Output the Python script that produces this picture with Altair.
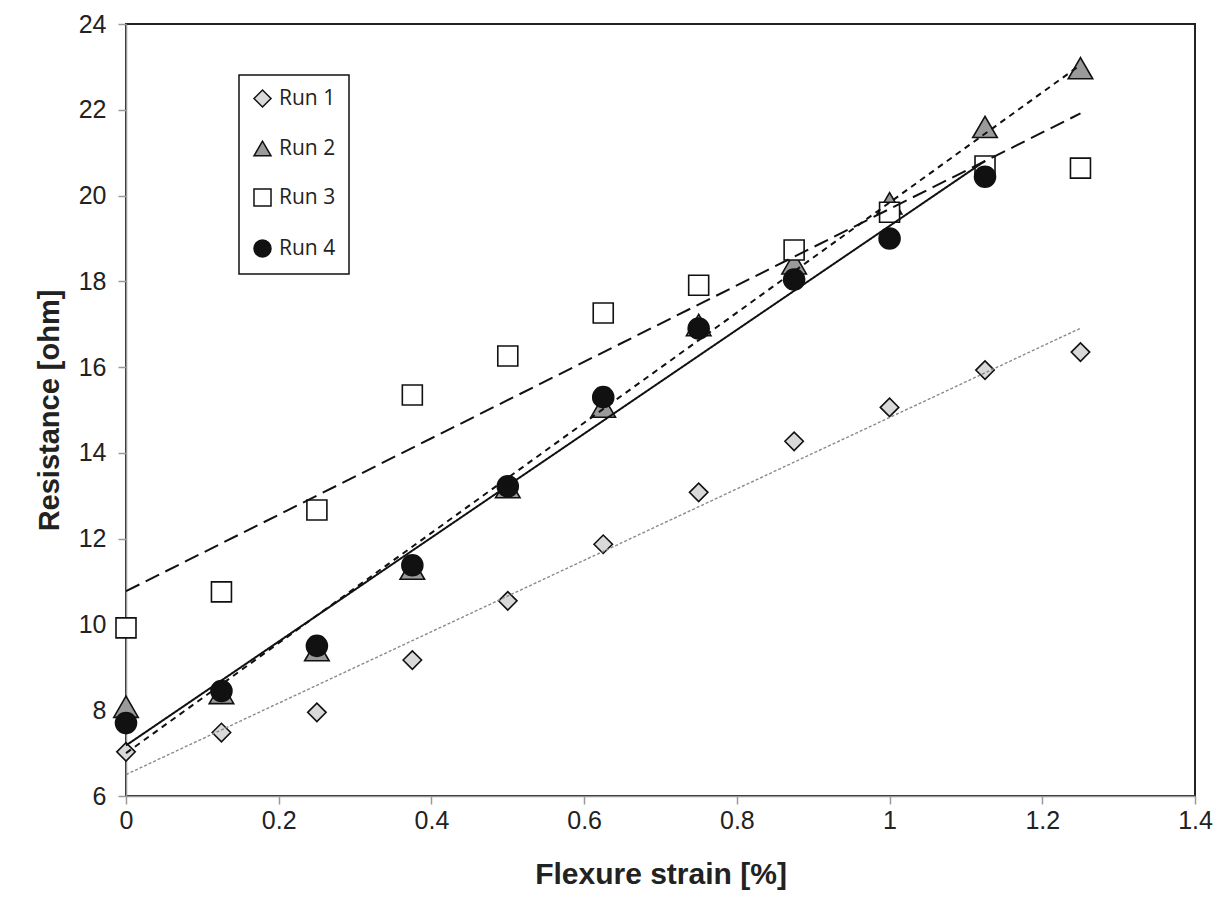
import altair as alt
import pandas as pd

strain = [0, 0.125, 0.25, 0.375, 0.5, 0.625, 0.75, 0.875, 1.0, 1.125, 1.25]
run1 = [7.03, 7.48, 7.95, 9.17, 10.55, 11.87, 13.08, 14.27, 15.06, 15.93, 16.35]
run2 = [8.08, 8.40, 9.40, 11.30, 13.20, 15.08, 16.98, 18.42, 19.82, 21.60, 22.97]
run3 = [9.92, 10.76, 12.67, 15.35, 16.26, 17.26, 17.91, 18.73, 19.61, 20.69, 20.64]
run4 = [7.70, 8.45, 9.50, 11.38, 13.22, 15.30, 16.90, 18.04, 19.00, 20.44]

runs = ["Run 1", "Run 2", "Run 3", "Run 4"]
series = [run1, run2, run3, run4]

rows = []
for name, vals in zip(runs, series):
    for xv, yv in zip(strain, vals):
        rows.append({"run": name, "x": xv, "y": yv})
df = pd.DataFrame(rows)

shapes = ["diamond", "triangle-up", "square", "circle"]
fills = ["#d9d9d9", "#9a9a9a", "#ffffff", "#111111"]
outlines = ["#111111", "#111111", "#111111", "#111111"]
sizes = [340, 600, 400, 440]
line_colors = ["#8a8a8a", "#111111", "#111111", "#111111"]
line_dashes = [[3, 2], [6, 5], [15, 7], [1, 0]]
line_widths = [1.4, 2, 2, 2]

xenc = alt.X("x:Q", scale=alt.Scale(domain=[0, 1.4], nice=False),
             axis=alt.Axis(title="Flexure strain [%]", values=[0, 0.2, 0.4, 0.6, 0.8, 1.0, 1.2, 1.4],
                           format=".1~f", grid=False, labelFlush=False))
yenc = alt.Y("y:Q", scale=alt.Scale(domain=[6, 24], nice=False, zero=False),
             axis=alt.Axis(title="Resistance [ohm]", values=list(range(6, 25, 2)), grid=False,
                           labelFlush=False))

base = alt.Chart(df)

legend = alt.Legend(title=None, orient="none", legendX=113, legendY=51,
                    symbolStrokeWidth=1.5)
shape_enc = alt.Shape("run:N", scale=alt.Scale(domain=runs, range=shapes), legend=legend)
fill_enc = alt.Fill("run:N", scale=alt.Scale(domain=runs, range=fills), legend=legend)
stroke_enc = alt.Stroke("run:N", scale=alt.Scale(domain=runs, range=outlines), legend=legend)

point_layers = []
for name, sz in zip(runs, sizes):
    point_layers.append(
        base.transform_filter(alt.datum.run == name)
        .mark_point(filled=True, strokeWidth=1.6, opacity=1, size=sz)
        .encode(x=xenc, y=yenc, shape=shape_enc, fill=fill_enc, stroke=stroke_enc)
    )

line_layers = []
for name, col, dash, w in zip(runs, line_colors, line_dashes, line_widths):
    line_layers.append(
        base.transform_filter(alt.datum.run == name)
        .transform_regression("x", "y")
        .mark_line(color=col, strokeDash=dash, strokeWidth=w)
        .encode(x=xenc, y=yenc)
    )

chart = alt.layer(*point_layers, *line_layers).properties(
    width=1069,
    height=772,
    padding={"left": 118, "top": 16, "right": 24, "bottom": 110},
    autosize=alt.AutoSizeParams(type="none"),
).configure_view(
    stroke="#222222", strokeWidth=2
).configure_axis(
    labelFont="Liberation Sans", labelColor="#222222",
    titleFont="Liberation Sans", titleFontWeight="bold", titleColor="#222222",
    domainColor="#999999", domainWidth=1.5, tickColor="#999999", tickWidth=1.5, tickSize=8,
).configure_axisX(
    labelFontSize=25, titleFontSize=30, labelPadding=4, titlePadding=26,
).configure_axisY(
    labelFontSize=25, titleFontSize=29, labelPadding=12, titlePadding=14,
).configure_legend(
    strokeColor="#111111", strokeWidth=1.5, fillColor="white",
    padding=13, rowPadding=26, symbolSize=290,
    labelFont="Open Sans", labelFontSize=21, labelColor="#222222", labelOffset=6,
    symbolOffset=0,
)

chart.save("out.html", embed_options={"renderer": "svg", "actions": False})
